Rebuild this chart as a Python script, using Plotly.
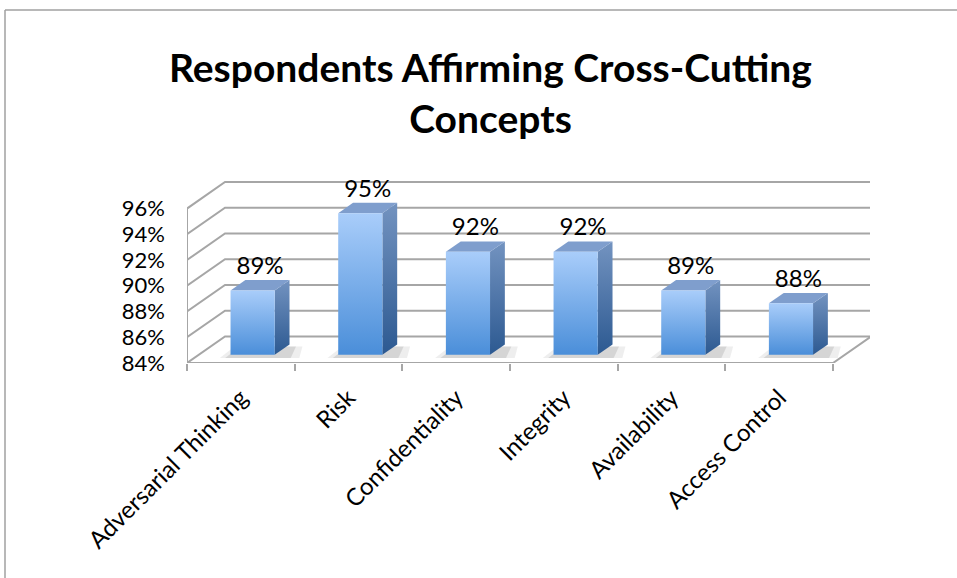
import plotly.graph_objects as go

categories = ["Adversarial Thinking", "Risk", "Confidentiality", "Integrity", "Availability", "Access Control"]
values = [89, 95, 92, 92, 89, 88]
value_labels = ["89%", "95%", "92%", "92%", "89%", "88%"]
y_ticks = [84, 86, 88, 90, 92, 94, 96]
y_tick_labels = ["84%", "86%", "88%", "90%", "92%", "94%", "96%"]
title_text = "Respondents Affirming Cross-Cutting<br>Concepts"

# pseudo-3D geometry (style constants, data units)
Y_MIN = y_ticks[0]
DX, DY = 0.353, 2.06      # depth vector of the chart box
F0, FD = 0.31, 0.39       # bar front-plane position and bar depth (fractions of box depth)
HALF = 0.205              # half bar width
GRID = "#a6a6a6"
FONT = "Lato, 'Open Sans', sans-serif"

W, H = 957, 578
ML, MR, MT, MB = 187, 87, 175, 215
n = len(categories)
x0, x1 = -0.5, n - 0.5
plot_w = W - ML - MR
units = plot_w / 107.67
xr = [x0, x0 + units]
plot_h = H - MT - MB
yr = [Y_MIN, Y_MIN + plot_h / 12.87]

fig = go.Figure()

def line(xs, ys, width=2):
    fig.add_trace(go.Scatter(x=xs, y=ys, mode="lines", line=dict(color=GRID, width=width),
                             hoverinfo="skip", showlegend=False))

# back wall gridlines and left wall diagonals
for v in y_ticks:
    line([x0, x0 + DX, x1 + DX], [v, v + DY, v + DY])
# floor front and right edges, left axis
line([x0, x1, x1 + DX], [Y_MIN, Y_MIN, Y_MIN + DY])
line([x0, x0], [Y_MIN, y_ticks[-1]])

for i, v in enumerate(values):
    xl = i - HALF + F0 * DX
    xrr = i + HALF + F0 * DX
    yb = Y_MIN + F0 * DY
    yt = v + F0 * DY
    ddx, ddy = FD * DX, FD * DY
    # soft shadows (two layers)
    for grow, alpha in [(0.10, 0.10), (0.05, 0.16)]:
        fig.add_trace(go.Scatter(
            x=[xl - grow, xrr + ddx * 0.5 + grow * 1.6, xrr + ddx + grow * 1.2, xl + ddx - grow],
            y=[yb - 0.25, yb - 0.25, yb + ddy * 0.8, yb + ddy * 0.8],
            fill="toself", mode="none", fillcolor=f"rgba(90,90,90,{alpha})",
            hoverinfo="skip", showlegend=False))
    # side face
    fig.add_trace(go.Scatter(
        x=[xrr, xrr + ddx, xrr + ddx, xrr, xrr],
        y=[yb, yb + ddy, yt + ddy, yt, yb],
        fill="toself", mode="lines", line=dict(width=0, color="rgba(0,0,0,0)"),
        fillgradient=dict(type="vertical", colorscale=[[0, "#2c5991"], [1, "#7393c0"]]),
        hoverinfo="skip", showlegend=False))
    # top face
    fig.add_trace(go.Scatter(
        x=[xl, xrr, xrr + ddx, xl + ddx, xl],
        y=[yt, yt, yt + ddy, yt + ddy, yt],
        fill="toself", mode="lines", line=dict(width=0, color="rgba(0,0,0,0)"),
        fillcolor="#7f9ecd", hoverinfo="skip", showlegend=False))
    # front face
    fig.add_trace(go.Scatter(
        x=[xl, xrr, xrr, xl, xl],
        y=[yb, yb, yt, yt, yb],
        fill="toself", mode="lines", line=dict(width=0, color="rgba(0,0,0,0)"),
        fillgradient=dict(type="vertical", colorscale=[[0, "#4a8ed9"], [1, "#a9cdfa"]]),
        name=categories[i], hoverinfo="text", text=f"{categories[i]}: {value_labels[i]}",
        showlegend=False))

# data labels
fig.add_trace(go.Scatter(
    x=[i + (F0 + FD / 2) * DX for i in range(n)],
    y=[v + (F0 + FD) * DY for v in values],
    text=value_labels, mode="text", textposition="top center",
    textfont=dict(family=FONT, size=24, color="#000000"),
    cliponaxis=False, hoverinfo="skip", showlegend=False))

# dummy trace on xaxis2 so it renders
fig.add_trace(go.Scatter(x=[x0], y=[Y_MIN], xaxis="x2", mode="none",
                         hoverinfo="skip", showlegend=False))

def px_x(p):
    return (p - ML) / plot_w

def px_y(p):
    return (H - MB - p) / plot_h

fig.update_layout(
    width=W, height=H,
    margin=dict(l=ML, r=MR, t=MT, b=MB),
    paper_bgcolor="white", plot_bgcolor="white",
    font=dict(family=FONT, color="#000000"),
    annotations=[dict(text=f"<b>{title_text}</b>", xref="paper", yref="paper",
                      x=px_x(490), y=px_y(42), xanchor="center", yanchor="top",
                      showarrow=False, align="center",
                      font=dict(family=FONT, size=39, color="#000000"))],
    xaxis=dict(range=xr, tickmode="array", tickvals=list(range(n)), ticktext=categories,
               tickangle=-45, ticks="", showgrid=False, zeroline=False, showline=False,
               tickfont=dict(family=FONT, size=24), ticklabelstandoff=15, fixedrange=True),
    xaxis2=dict(range=xr, overlaying="x", anchor="y", side="bottom",
                tickmode="array", tickvals=[x0 + k for k in range(n + 1)],
                ticks="outside", ticklen=7, tickwidth=2, tickcolor=GRID,
                showticklabels=False, showgrid=False, zeroline=False, showline=False),
    yaxis=dict(range=yr, tickmode="array", tickvals=y_ticks, ticktext=y_tick_labels,
               ticks="", showgrid=False, zeroline=False, showline=False,
               tickfont=dict(family=FONT, size=22), ticklabelstandoff=21, fixedrange=True),
    shapes=[
        dict(type="line", xref="paper", yref="paper", x0=px_x(5), y0=px_y(10), x1=px_x(W + 5), y1=px_y(10),
             line=dict(color="#a0a0a0", width=1.5)),
        dict(type="line", xref="paper", yref="paper", x0=px_x(5), y0=px_y(10), x1=px_x(5), y1=px_y(H + 5),
             line=dict(color="#a0a0a0", width=1.5)),
    ],
)

fig.write_html("out.html")
